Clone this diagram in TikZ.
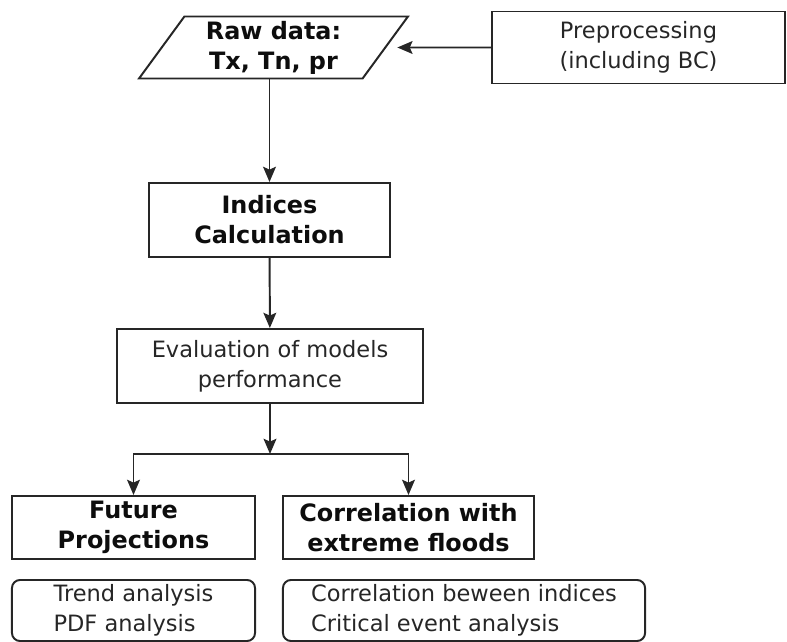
\documentclass[tikz,border=0pt]{standalone}
\usepackage{fontspec}
\setmainfont{DejaVu Sans}
\usetikzlibrary{shapes.geometric}
\usetikzlibrary{arrows.meta}
\tikzset{
  box/.style={draw=black!85, line width=1.4pt, text=black!85, align=center, inner sep=0pt,
    font=\fontsize{16}{21.3}\selectfont},
  strong/.style={box, text=black!95, font=\fontsize{17}{21.3}\selectfont\bfseries},
  note/.style={box, rounded corners=0.2cm, align=left},
  arrow/.style={draw=black!85, line width=1.4pt, -{Stealth[length=0.38cm,width=0.32cm,inset=0.07cm]}}
}

\begin{document}
\begin{tikzpicture}[x=0.025cm, y=-0.025cm]
    \useasboundingbox (0,0) rectangle (787,642);
    \node (raw) [strong, trapezium, trapezium left angle=57, trapezium right angle=123,
      trapezium stretches=true, minimum width=6.725cm, minimum height=1.55cm]
      at (273.5,47.5) {Raw data:\\Tx, Tn, pr};
    \node (prep) [box, minimum width=7.325cm, minimum height=1.8cm] at (638.5,47.5)
      {Preprocessing\\(including BC)};
    \node (indices) [strong, minimum width=6.025cm, minimum height=1.85cm] at (269.5,220)
      {Indices\\Calculation};
    \node (eval) [box, minimum width=7.65cm, minimum height=1.85cm] at (270,366)
      {Evaluation of models\\performance};
    \node (future) [strong, minimum width=6.075cm, minimum height=1.575cm] at (133.5,527.5)
      {Future\\Projections};
    \node (corr) [strong, minimum width=6.275cm, minimum height=1.575cm] at (408.5,527.5)
      {Correlation with\\extreme floods};
    \node (trend) [note, minimum width=6.075cm, minimum height=1.525cm] at (133.5,610.5)
      {Trend analysis\\PDF analysis};
    \node (crit) [note, minimum width=9.05cm, minimum height=1.525cm] at (464,610.5)
      {Correlation beween indices\\Critical event analysis};
    \coordinate (split) at (270,454);

    \draw [arrow, shorten >=0.27cm] (prep) -- (raw);
    \draw [arrow] (raw.south -| indices) -- (indices);
    \draw [arrow] (indices) -- (eval);
    \draw [arrow] (eval) -- (split);
    \draw [arrow] (split) -| (future);
    \draw [arrow] (split) -| (corr);
  \end{tikzpicture}
\end{document}
